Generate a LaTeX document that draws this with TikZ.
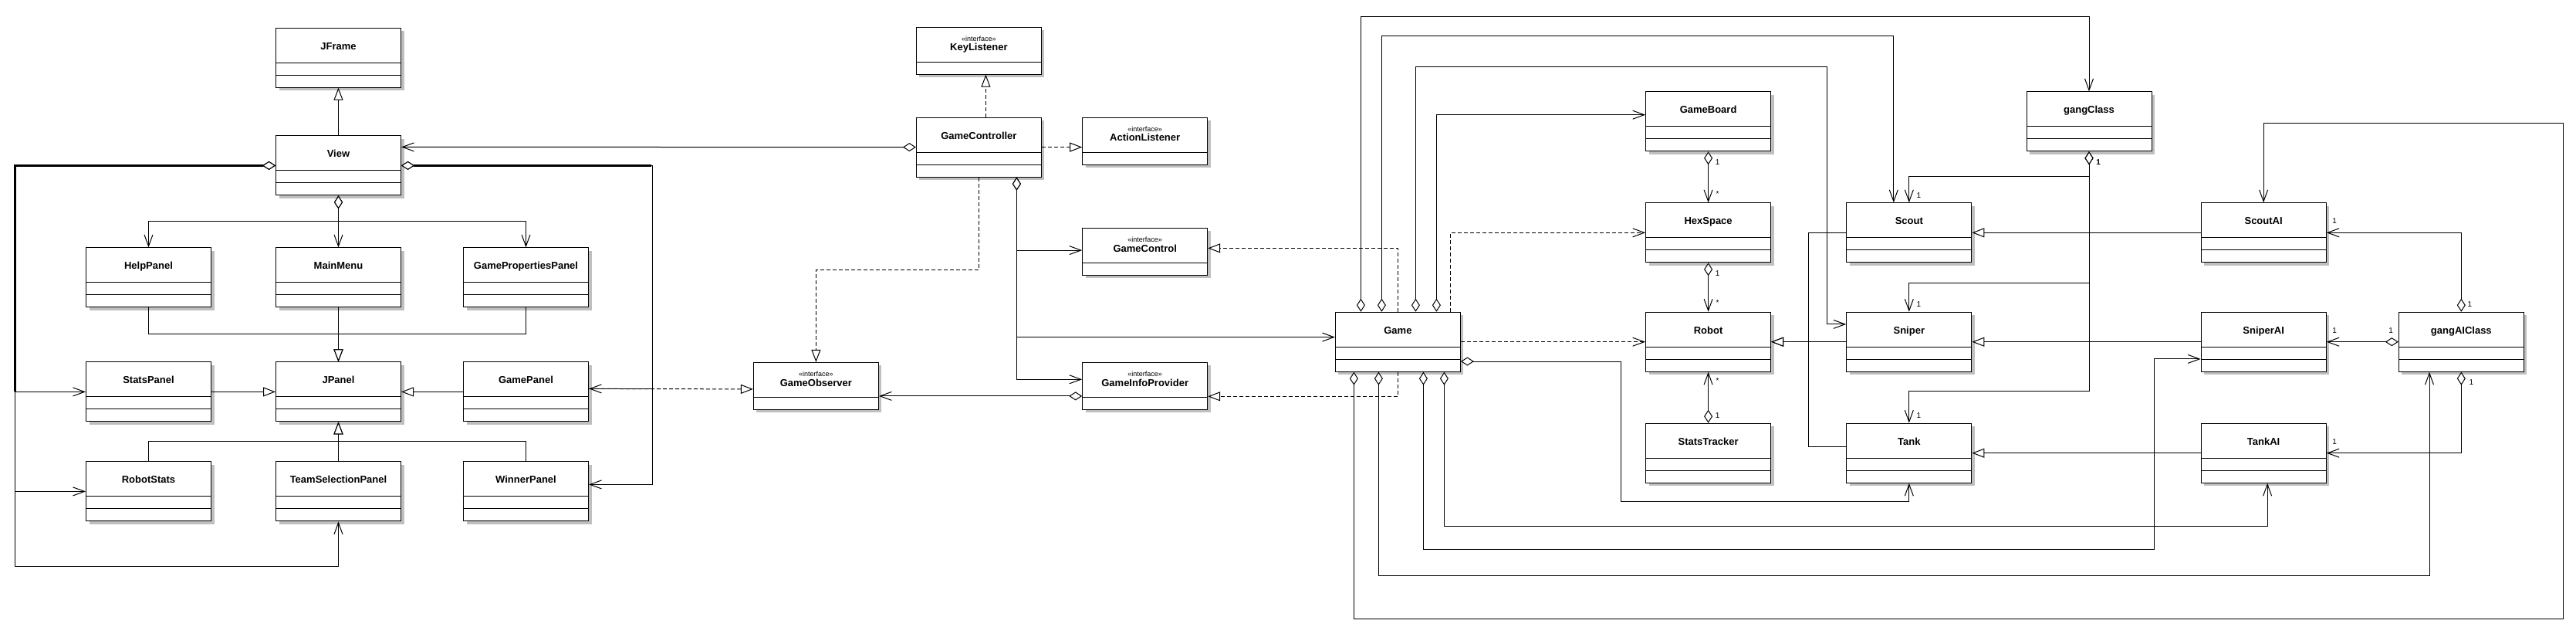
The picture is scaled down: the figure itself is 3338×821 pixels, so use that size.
\documentclass[tikz,border=0pt]{standalone}
\usepackage{fontspec}
\setmainfont{Liberation Sans}
\usepackage{tikz}
\usetikzlibrary{positioning,shadows,arrows.meta}
\tikzstyle{classbox}=[rectangle, draw=black, fill=white, line width=1pt, anchor=north,
    minimum width=162pt, minimum height=77pt, inner sep=0pt, text height=28pt, text depth=49pt,
    font=\fontsize{13pt}{15pt}\selectfont\bfseries,
    drop shadow={shadow xshift=4pt, shadow yshift=-4pt, fill=black!25, opacity=1},
    path picture={
        \draw[line width=1pt] ([yshift=-45pt]path picture bounding box.north west) -- ([yshift=-45pt]path picture bounding box.north east);
        \draw[line width=1pt] ([yshift=-61pt]path picture bounding box.north west) -- ([yshift=-61pt]path picture bounding box.north east);
    }]
\tikzstyle{ifacebox}=[classbox, minimum height=61pt, text height=18pt, text depth=43pt,
    path picture={
        \draw[line width=1pt] ([yshift=-45pt]path picture bounding box.north west) -- ([yshift=-45pt]path picture bounding box.north east);
    }]
\tikzstyle{mult}=[inner sep=0pt, font=\fontsize{10pt}{12pt}\selectfont]
\tikzstyle{gen}=[line width=1pt, -{Triangle[length=16pt, width=12pt, fill=white]}]
\tikzstyle{real}=[gen, dash pattern=on 5pt off 3pt]
\tikzstyle{aggr}=[line width=1pt, {Diamond[length=17pt, width=11pt, fill=white]}-{Straight Barb[length=15pt, width=11pt]}]
\tikzstyle{dep}=[line width=1pt, dash pattern=on 5pt off 3pt, -{Straight Barb[length=15pt, width=11pt]}]
\newcommand{\stereo}[1]{\vtop{\baselineskip=12.7pt
    \hbox to 162pt{\hfil{\mdseries\fontsize{9pt}{9pt}\selectfont «interface»}\hfil}
    \hbox to 162pt{\hfil #1\hfil}}}

\begin{document}
\begin{tikzpicture}[x=1pt, y=-1pt]
    \useasboundingbox (0,0) rectangle (3338,821);
        \node(JFrame)[classbox] at (438.5,35.6) {
            JFrame
        };
        \node(View)[classbox, below=61.8pt of JFrame] {
            View
        };
        \node(MainMenu)[classbox, below=67pt of View] {
            MainMenu
        };
        \node(HelpPanel)[classbox, left=83pt of MainMenu] {
            HelpPanel
        };
        \node(GamePropertiesPanel)[classbox, right=80pt of MainMenu] {
            GamePropertiesPanel
        };
        \node(JPanel)[classbox, below=70pt of MainMenu] {
            JPanel
        };
        \node(StatsPanel)[classbox, left=83pt of JPanel] {
            StatsPanel
        };
        \node(GamePanel)[classbox, right=80pt of JPanel] {
            GamePanel
        };
        \node(TeamSelectionPanel)[classbox, below=51pt of JPanel] {
            TeamSelectionPanel
        };
        \node(RobotStats)[classbox, left=83pt of TeamSelectionPanel] {
            RobotStats
        };
        \node(WinnerPanel)[classbox, right=80pt of TeamSelectionPanel] {
            WinnerPanel
        };
        \node(KeyListener)[ifacebox] at (1268.4,34.6) {
            \stereo{KeyListener}
        };
        \node(GameController)[classbox, below=55pt of KeyListener] {
            GameController
        };
        \node(ActionListener)[ifacebox, right=52.3pt of GameController.north east, anchor=north west] {
            \stereo{ActionListener}
        };
        \node(GameControl)[ifacebox, below=81.2pt of ActionListener] {
            \stereo{GameControl}
        };
        \node(GameInfoProvider)[ifacebox, below=112.1pt of GameControl] {
            \stereo{GameInfoProvider}
        };
        \node(GameObserver)[ifacebox, left=263.3pt of GameInfoProvider] {
            \stereo{GameObserver}
        };
        \node(Game)[classbox] at (1811.4,403.7) {
            Game
        };
        \node(Robot)[classbox, right=239.2pt of Game] {
            Robot
        };
        \node(HexSpace)[classbox, above=63.4pt of Robot] {
            HexSpace
        };
        \node(GameBoard)[classbox, above=66pt of HexSpace] {
            GameBoard
        };
        \node(StatsTracker)[classbox, below=66pt of Robot] {
            StatsTracker
        };
        \node(Sniper)[classbox, right=97.2pt of Robot] {
            Sniper
        };
        \node(Scout)[classbox, above=63.4pt of Sniper] {
            Scout
        };
        \node(Tank)[classbox, below=66pt of Sniper] {
            Tank
        };
        \node(gangClass)[classbox, right=330.4pt of GameBoard] {
            gangClass
        };
        \node(SniperAI)[classbox, right=296.3pt of Sniper] {
            SniperAI
        };
        \node(ScoutAI)[classbox, above=63.4pt of SniperAI] {
            ScoutAI
        };
        \node(TankAI)[classbox, below=66pt of SniperAI] {
            TankAI
        };
        \node(gangAIClass)[classbox, right=93.2pt of SniperAI] {
            gangAIClass
        };

        \draw[gen] (View.north) -- (JFrame.south);
        \draw[aggr] (View.south) |- ([yshift=34pt]HelpPanel.north) -- (HelpPanel.north);
        \draw[aggr] (View.south) -- (MainMenu.north);
        \draw[aggr] (View.south) |- ([yshift=34pt]GamePropertiesPanel.north) -- (GamePropertiesPanel.north);
        \draw[gen] (HelpPanel.south) |- ([yshift=35.6pt]JPanel.north) -- (JPanel.north);
        \draw[gen] (MainMenu.south) -- (JPanel.north);
        \draw[gen] (GamePropertiesPanel.south) |- ([yshift=35.6pt]JPanel.north) -- (JPanel.north);
        \draw[gen] (StatsPanel.east) -- (JPanel.west);
        \draw[gen] (GamePanel.west) -- (JPanel.east);
        \draw[gen] (RobotStats.north) |- ([yshift=-25.2pt]JPanel.south) -- (JPanel.south);
        \draw[gen] (TeamSelectionPanel.north) -- (JPanel.south);
        \draw[gen] (WinnerPanel.north) |- ([yshift=-25.2pt]JPanel.south) -- (JPanel.south);
        \draw[line width=3pt] ([xshift=-16pt]View.west) -| ([xshift=-92pt]StatsPanel.west);
        \draw[aggr] (View.west) -| ([xshift=-92pt]StatsPanel.west) -- (StatsPanel.west);
        \draw[aggr] (View.west) -| ([xshift=-92pt]RobotStats.west) -- (RobotStats.west);
        \draw[aggr] (View.west) -| ([xshift=-92pt, yshift=-96.6pt]RobotStats.west) -| (TeamSelectionPanel.south);
        \draw[line width=3pt] ([xshift=16pt]View.east) -- ([xshift=324.4pt]View.east);
        \draw[aggr] (View.east) -| ([xshift=82.5pt, yshift=4pt]GamePanel.east) -- ([yshift=4pt]GamePanel.east);
        \draw[aggr] (View.east) -| ([xshift=82.5pt, yshift=9pt]WinnerPanel.east) -- ([yshift=9pt]WinnerPanel.east);

        \draw[aggr] (GameController.west) -- ([yshift=24pt]View.east);
        \draw[real] ([xshift=9pt]GameController.north) -- ([xshift=9pt]KeyListener.south);
        \draw[real] (GameController.east) -- ([yshift=-8pt]ActionListener.west);
        \draw[real] (GameController.south) |- ([yshift=119.5pt]GameObserver.north) -- (GameObserver.north);
        \draw[aggr] ([xshift=49pt]GameController.south) |- ([yshift=1.7pt]GameControl.west);
        \draw[aggr] ([xshift=49pt]GameController.south) |- ([yshift=6.1pt]Game.west);
        \draw[aggr] ([xshift=49pt]GameController.south) |- ([yshift=8.6pt]GameInfoProvider.west);
        \draw[aggr] ([yshift=-13pt]GameInfoProvider.west) -- ([yshift=-13pt]GameObserver.east);
        \draw[real] ([yshift=4pt]GamePanel.east) -- ([yshift=-4pt]GameObserver.west);
        \draw[real] (Game.north) |- ([yshift=4.4pt]GameControl.east);
        \draw[real] (Game.south) |- ([yshift=-13.4pt]GameInfoProvider.east);

        \draw[aggr] ([xshift=-48pt]Game.north) |- ([yshift=96.8pt]gangClass.north) -- (gangClass.north);
        \draw[aggr] ([xshift=-21pt]Game.north) |- ([xshift=-20pt, yshift=215.8pt]Scout.north) -- ([xshift=-20pt]Scout.north);
        \draw[aggr] ([xshift=23pt]Game.north) |- ([xshift=-25pt, yshift=355.8pt]Sniper.west) |- ([yshift=22.8pt]Sniper.west);
        \draw[aggr] ([xshift=50pt]Game.north) |- ([yshift=8.6pt]GameBoard.west);
        \draw[dep] ([xshift=68pt]Game.north) |- (HexSpace.west);
        \draw[dep] (Game.east) -- (Robot.west);
        \draw[aggr] ([yshift=-25.3pt]Game.east) -| ([xshift=-31.9pt, yshift=-206.5pt]Robot.west) -| (Tank.south);
        \draw[aggr] ([xshift=60pt]Game.south) |- ([xshift=5pt, yshift=-56pt]TankAI.south) -- ([xshift=5pt]TankAI.south);
        \draw[aggr] ([xshift=33pt]Game.south) |- ([xshift=-60.5pt, yshift=-268.3pt]SniperAI.west) |- ([yshift=-22.2pt]SniperAI.west);
        \draw[aggr] ([xshift=-25pt]Game.south) |- ([xshift=-41.3pt, yshift=-263.9pt]gangAIClass.south) -- ([xshift=-41.3pt]gangAIClass.south);
        \draw[aggr] ([xshift=-57pt]Game.south) |- ([xshift=132.3pt, yshift=-319.4pt]gangAIClass.south) |- ([yshift=102.7pt]ScoutAI.north) -- (ScoutAI.north);

        \draw[aggr] (GameBoard.south) -- (HexSpace.north);
        \draw[aggr] (HexSpace.south) -- (Robot.north);
        \draw[aggr] (StatsTracker.north) -- (Robot.south);
        \draw[gen] (Sniper.west) -- (Robot.east);
        \draw[gen] (Scout.west) -| ([xshift=-49pt]Sniper.west) -- (Robot.east);
        \draw[gen] ([yshift=8pt]Tank.west) -| ([xshift=-49pt]Sniper.west) -- (Robot.east);
        \draw[aggr] (gangClass.south) |- ([yshift=33.6pt]Scout.north) -- (Scout.north);
        \draw[aggr] (gangClass.south) |- ([yshift=37.2pt]Sniper.north) -- (Sniper.north);
        \draw[aggr] (gangClass.south) |- ([yshift=40.8pt]Tank.north) -- (Tank.north);
        \draw[gen] (ScoutAI.west) -- (Scout.east);
        \draw[gen] (SniperAI.west) -- (Sniper.east);
        \draw[gen] (TankAI.west) -- (Tank.east);
        \draw[aggr] (gangAIClass.north) |- (ScoutAI.east);
        \draw[aggr] (gangAIClass.west) -- (SniperAI.east);
        \draw[aggr] (gangAIClass.south) |- (TankAI.east);

        \node(m1)[mult] at ([xshift=12pt, yshift=-14pt]GameBoard.south) {1};
        \node(m2)[mult] at ([xshift=12pt, yshift=11pt]HexSpace.north) {*};
        \node(m3)[mult] at ([xshift=12pt, yshift=-14pt]HexSpace.south) {1};
        \node(m4)[mult] at ([xshift=12pt, yshift=12pt]Robot.north) {*};
        \node(m5)[mult] at ([xshift=12pt, yshift=-11pt]Robot.south) {*};
        \node(m6)[mult] at ([xshift=12pt, yshift=10pt]StatsTracker.north) {1};
        \node(m7)[mult, font=\fontsize{10pt}{12pt}\selectfont\bfseries] at ([xshift=12pt, yshift=-14pt]gangClass.south) {1};
        \node(m8)[mult] at ([xshift=12.6pt, yshift=9pt]Scout.north) {1};
        \node(m9)[mult] at ([xshift=12.6pt, yshift=10pt]Sniper.north) {1};
        \node(m10)[mult] at ([xshift=12.6pt, yshift=10pt]Tank.north) {1};
        \node(m11)[mult] at ([xshift=10.6pt, yshift=15pt]ScoutAI.east) {1};
        \node(m12)[mult] at ([xshift=11pt, yshift=10pt]gangAIClass.north) {1};
        \node(m13)[mult] at ([xshift=10.6pt, yshift=15pt]SniperAI.east) {1};
        \node(m14)[mult] at ([xshift=-9.6pt, yshift=15pt]gangAIClass.west) {1};
        \node(m15)[mult] at ([xshift=13pt, yshift=-13pt]gangAIClass.south) {1};
        \node(m16)[mult] at ([xshift=10.6pt, yshift=15pt]TankAI.east) {1};
    \end{tikzpicture}
\end{document}
